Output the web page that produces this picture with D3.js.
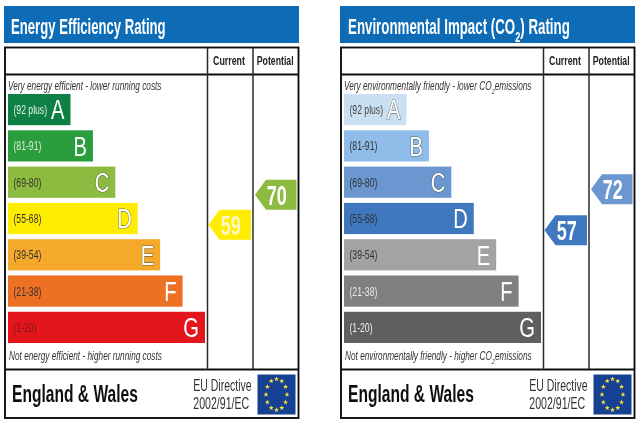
<!DOCTYPE html>
<html>
<head>
<meta charset="utf-8">
<script src="https://cdn.jsdelivr.net/npm/d3@7"></script>
<style>
html, body { margin: 0; padding: 0; background: #fff; }
svg { display: block; }
text { font-family: "Liberation Sans", sans-serif; }
</style>
</head>
<body>
<div id="figure-holder"></div>
<script>
const bands = ['(92 plus)', '(81-91)', '(69-80)', '(55-68)', '(39-54)', '(21-38)', '(1-20)'];
const letters = ['A', 'B', 'C', 'D', 'E', 'F', 'G'];
const barRanks = [1, 2, 3, 4, 5, 6, 7];
const energyColors = ['#0f8044', '#2b9e3e', '#8dbb3f', '#ffed00', '#f4a92a', '#ee7024', '#e4191f'];
const co2Colors = ['#cbdff2', '#8fbce8', '#6a97cf', '#3f78c0', '#a3a3a3', '#808080', '#5e5e5e'];
const energyLabelColors = ['#e8f0e8', '#dfe8df', '#333', '#333', '#333', '#333', '#7a1a1a'];
const co2LabelColors = ['#444', '#333', '#333', '#333', '#333', '#e8e8e8', '#eee'];
const energyRatings = [59, 70];
const co2Ratings = [57, 72];

const panels = [
    { id: 'energy', x: 0, title: ['Energy Efficiency Rating'], titleX: 11, titleW: 154.7,
      top: ['Very energy efficient - lower running costs'], topW: 153.5,
      bottom: ['Not energy efficient - higher running costs'], bottomW: 153,
      colors: energyColors, labelColors: energyLabelColors,
      ratings: energyRatings, arrowColors: ['#ffed00', '#8dbb3f'], ratingInk: ['#fff8c0', '#fff'], outlined: ['C', 'D', 'E'] },
    { id: 'co2', x: 336, title: ['Environmental Impact (CO', '2', ') Rating'], titleX: 12, titleW: 222,
      top: ['Very environmentally friendly - lower CO', '2', 'emissions'], topW: 187.7,
      bottom: ['Not environmentally friendly - higher CO', '2', 'emissions'], bottomW: 186.7,
      colors: co2Colors, labelColors: co2LabelColors,
      ratings: co2Ratings, arrowColors: ['#3f78c0', '#6a97cf'], ratingInk: ['#fff', '#fff'], outlined: ['A', 'B', 'C'] }
];

const svg = d3.select('#figure-holder').append('svg')
    .attr('width', 640)
    .attr('height', 424);

svg.append('defs').append('filter').attr('id', 'soft')
    .attr('x', 0).attr('y', 0).attr('width', 640).attr('height', 424)
    .attr('filterUnits', 'userSpaceOnUse')
    .append('feGaussianBlur').attr('stdDeviation', 0.5);

const root = svg.append('g').attr('filter', 'url(#soft)');

// scales shared by both panels
const y = d3.scaleBand().domain(letters).range([94, 343]).paddingInner(0.14).paddingOuter(0);
const barEnd = d3.scaleLinear().domain([1, 7]).range([70.5, 205]);
const ratingY = d3.scaleLinear().domain([1, 100]).range([383, 113]);

// writes a string with every second part as a subscript
const addParts = (sel, parts, subSize) => {
    parts.forEach((p, i) => {
        const t = sel.append('tspan').text(p);
        if (i === 1) t.attr('dy', subSize * 0.55).style('font-size', `${subSize}px`);
        if (i === 2) t.attr('dy', -subSize * 0.55);
    });
};

// the original is set in a narrow face, so squeeze the text to a width w
const place = (sel, x, yPos, w) => {
    const sx = w / sel.node().getComputedTextLength();
    sel.attr('transform', `translate(${x}, ${yPos}) scale(${sx}, 1)`);
    return sel;
};

const drawPanel = (p) => {
    const g = root.append('g').attr('id', p.id).attr('transform', `translate(${p.x}, 0)`);

    g.append('rect').attr('x', 4).attr('y', 6).attr('width', 295).attr('height', 37).style('fill', '#0b6cb5');
    g.append('text')
        .style('font-size', '22px').style('font-weight', 'bold').style('fill', '#fff')
        .call(addParts, p.title, 15)
        .call(place, p.titleX, 33.5, p.titleW);

    // frame
    g.append('rect').attr('x', 5).attr('y', 47.5).attr('width', 293.5).attr('height', 370.5)
        .style('fill', '#fff').style('stroke', '#111').style('stroke-width', 1.9);
    [74.5, 369.5].forEach(ly => {
        g.append('line').attr('x1', 5).attr('x2', 298.5).attr('y1', ly).attr('y2', ly)
            .style('stroke', '#111').style('stroke-width', 2);
    });
    [207.5, 253].forEach(lx => {
        g.append('line').attr('x1', lx).attr('x2', lx).attr('y1', 47.5).attr('y2', 369.5)
            .style('stroke', '#2a2a2a').style('stroke-width', 1.5);
    });

    // column heads
    g.append('text').text('Current')
        .style('font-size', '13px').style('font-weight', 'bold').style('fill', '#222')
        .call(place, 213, 65, 32);
    g.append('text').text('Potential')
        .style('font-size', '13px').style('font-weight', 'bold').style('fill', '#222')
        .call(place, 256.7, 65, 37);

    g.append('text')
        .style('font-size', '12px').style('font-style', 'italic').style('fill', '#333')
        .call(addParts, p.top, 8)
        .call(place, 8, 90, p.topW);
    g.append('text')
        .style('font-size', '12px').style('font-style', 'italic').style('fill', '#333')
        .call(addParts, p.bottom, 8)
        .call(place, 9, 360, p.bottomW);

    // bars
    const row = g.selectAll('.bar').data(letters).enter().append('g').attr('class', 'bar');
    row.append('rect')
        .attr('x', 8)
        .attr('y', d => y(d))
        .attr('width', (d, i) => barEnd(barRanks[i]) - 8)
        .attr('height', y.bandwidth())
        .style('fill', (d, i) => p.colors[i]);
    row.append('text')
        .text((d, i) => bands[i])
        .attr('transform', d => `translate(13.5, ${y(d) + y.bandwidth() / 2 + 4.5}) scale(0.72, 1)`)
        .style('font-size', '12px')
        .style('fill', (d, i) => p.labelColors[i]);
    row.append('text')
        .text(d => d)
        .attr('transform', (d, i) => `translate(${barEnd(barRanks[i]) - 6}, ${y(d) + y.bandwidth() / 2 + 9.8}) scale(0.72, 1)`)
        .attr('text-anchor', 'end')
        .style('font-size', '28px')
        .style('fill', '#fff')
        .style('paint-order', 'stroke')
        .style('stroke', d => p.outlined.includes(d) ? 'rgba(70,80,60,0.75)' : 'none')
        .style('stroke-width', 1.2);

    // rating arrows: current, potential
    const arrowX = [[208.5, 251], [255, 296.5]];
    p.ratings.forEach((v, i) => {
        const cy = ratingY(v);
        const [x0, x1] = arrowX[i];
        const pts = [[x0, cy], [x0 + 11, cy - 15], [x1, cy - 15], [x1, cy + 15], [x0 + 11, cy + 15]];
        g.append('polygon').attr('points', pts.join(' ')).style('fill', p.arrowColors[i]);
        g.append('text').text(v)
            .attr('transform', `translate(${(x0 + x1) / 2 + 1}, ${cy + 10}) scale(0.67, 1)`)
            .attr('text-anchor', 'middle')
            .style('font-size', '27px')
            .style('font-weight', 'bold')
            .style('fill', p.ratingInk[i]);
    });

    // footer
    g.append('text').text('England & Wales')
        .style('font-size', '24px').style('font-weight', 'bold').style('fill', '#111')
        .call(place, 12, 402, 126);
    g.append('text').text('EU Directive')
        .style('font-size', '16px').style('fill', '#333')
        .call(place, 193.3, 391, 58.4);
    g.append('text').text('2002/91/EC')
        .style('font-size', '16px').style('fill', '#333')
        .call(place, 193.3, 409, 56);

    g.append('rect').attr('x', 257.5).attr('y', 374.5).attr('width', 38).attr('height', 40).style('fill', '#173f92');
    const star = d3.symbol().type(d3.symbolStar).size(8);
    d3.range(12).forEach(k => {
        const a = k * Math.PI / 6;
        g.append('path').attr('d', star)
            .attr('transform', `translate(${276.5 + 10.5 * Math.sin(a)}, ${394.5 - 15.5 * Math.cos(a)})`)
            .style('fill', '#ffe93b');
    });
};

panels.forEach(drawPanel);
</script>
</body>
</html>
